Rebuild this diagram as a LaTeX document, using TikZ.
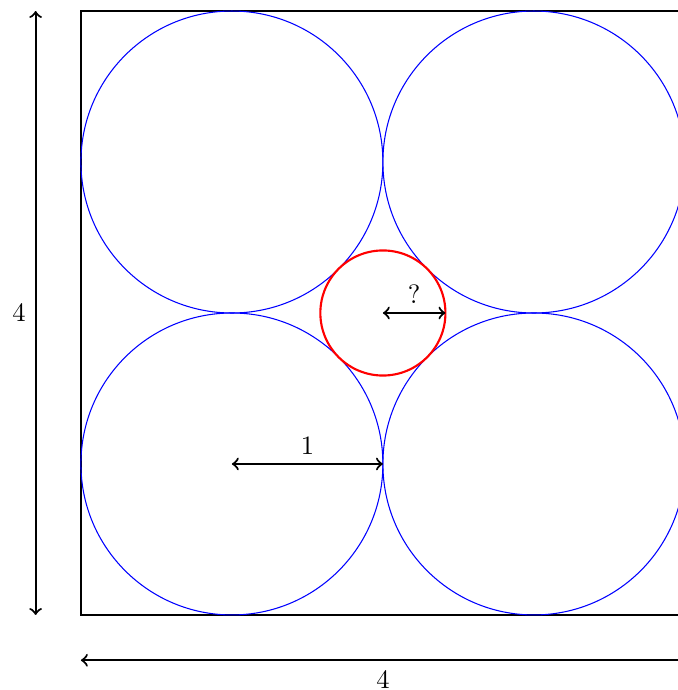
\documentclass[tikz,border=0pt]{standalone}
\usetikzlibrary{positioning}

\begin{document}
\begin{tikzpicture}[
  x=2cm, y=2cm,
  frame/.style={draw=black, thick},
  bigdisc/.style={draw=blue},
  smalldisc/.style={draw=red, thick},
  measure/.style={<->, thick},
  tag/.style={font=\normalsize}
]
\clip (-0.536,-0.497) rectangle (3.954,4.073);

% square and the four circles
\draw[frame] (0,0) rectangle (4,4);
\coordinate (c11) at (1,1);
\coordinate (c21) at (3,1);
\coordinate (c12) at (1,3);
\coordinate (c22) at (3,3);
\foreach \c in {c11,c21,c12,c22}
  \draw[bigdisc] (\c) circle[radius=1];

% the small circle in the middle
\coordinate (mid) at (2,2);
\draw[smalldisc] (mid) circle[radius={sqrt(2)-1}];

% measures
\coordinate (rim) at (2,1);
\draw[measure] (c11) -- node[tag, above] (one) {1} (rim);
\coordinate (gap) at ({1+sqrt(2)},2);
\draw[measure] (mid) -- node[tag, above] (ask) {?} (gap);

\coordinate (lb) at (-0.3,0);
\coordinate (lt) at (-0.3,4);
\draw[measure] (lb) -- node[tag, left] (side) {4} (lt);
\coordinate (bl) at (0,-0.3);
\coordinate (br) at (4,-0.3);
\draw[measure] (bl) -- node[tag, below] (base) {4} (br);
\end{tikzpicture}
\end{document}
